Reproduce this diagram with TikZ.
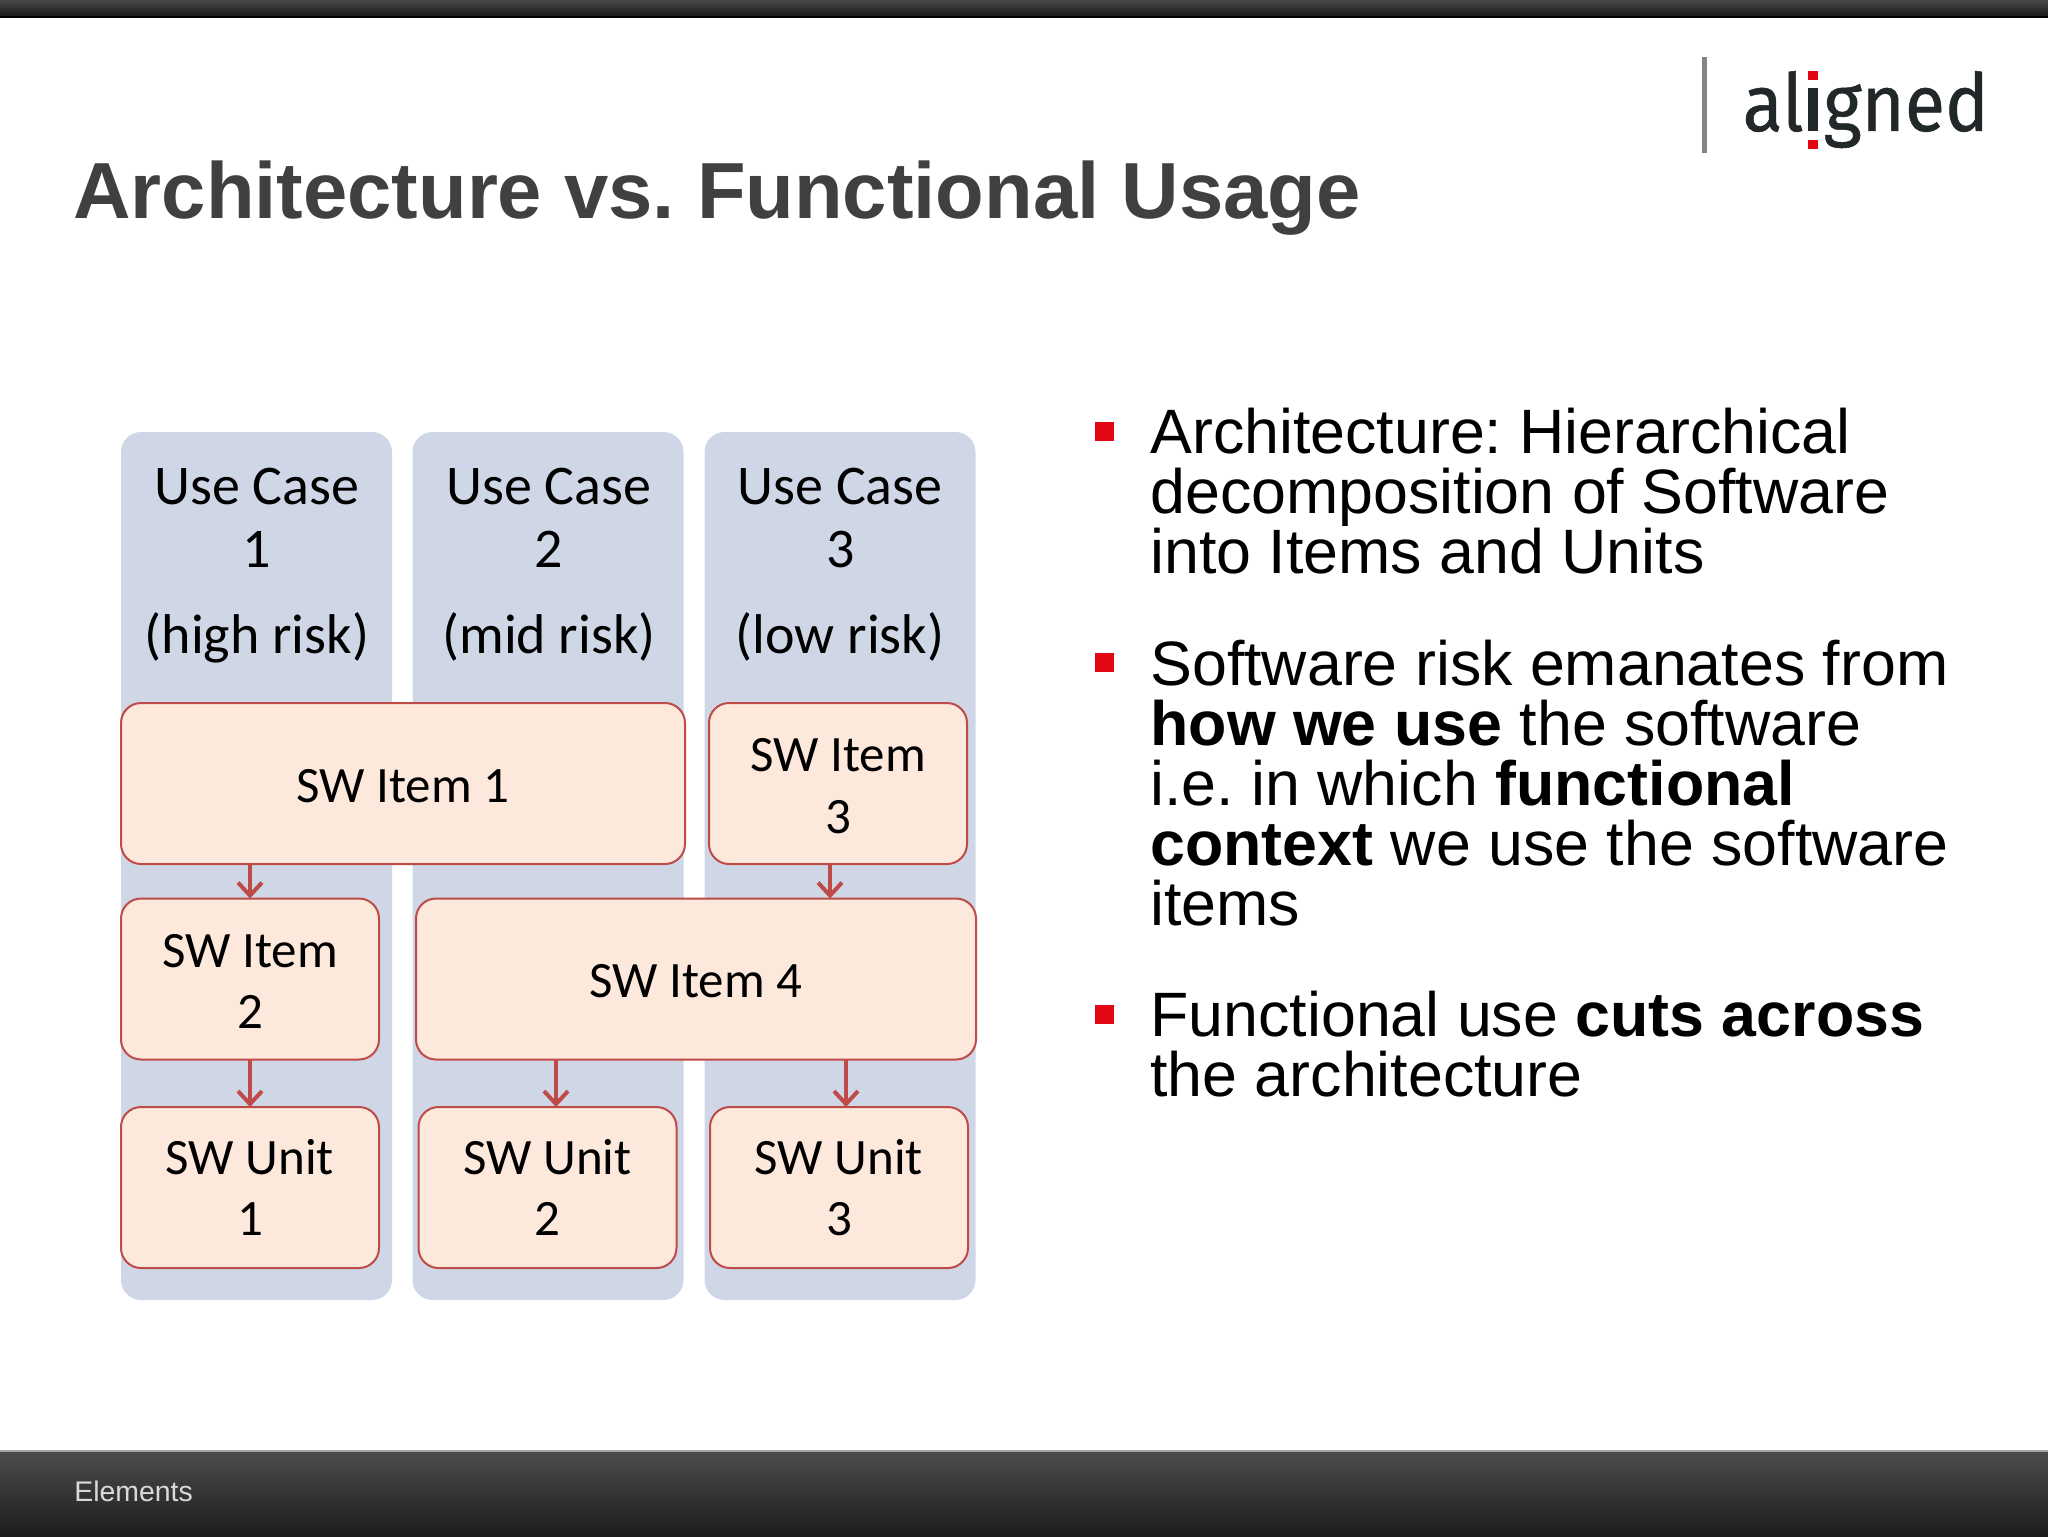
\documentclass[tikz,border=0pt]{standalone}
\usepackage{fontspec}
\setmainfont{Liberation Sans}
\newfontfamily\carlito{Carlito}
\newfontfamily\logofont[FakeStretch=0.92,FakeBold=0.6]{Fira Sans}
\usetikzlibrary{arrows.meta}
\frenchspacing
\newcommand{\lowr}{\rule{0pt}{19pt}}
\definecolor{colfill}{HTML}{CFD7E7}
\definecolor{boxfill}{HTML}{FDE8DC}
\definecolor{boxline}{HTML}{BE4B48}
\definecolor{titlegray}{HTML}{404040}
\definecolor{logodark}{HTML}{22282A}
\definecolor{logored}{HTML}{E30613}
\tikzset{
  x=0.5pt,y=-0.5pt,
  colbox/.style={rectangle,rounded corners=10pt,fill=colfill,inner sep=0pt,outer sep=0pt,minimum width=135.5pt,minimum height=434pt},
  swbox/.style={rectangle,rounded corners=10pt,fill=boxfill,draw=boxline,line width=1pt,inner sep=0pt,outer sep=0pt,minimum height=80.5pt,align=center,font=\carlito\fontsize{25.5}{30.7}\selectfont},
  collabel/.style={anchor=base,inner sep=0pt,font=\carlito\fontsize{28}{30}\selectfont},
  bodytext/.style={anchor=base west,inner sep=0pt,font=\fontsize{31.35}{38}\selectfont},
  flowarrow/.style={draw=boxline,line width=2pt,-{Straight Barb[length=6.5pt,width=12pt,line width=2pt]}},
  bulletmark/.style={rectangle,fill=logored,inner sep=0pt,minimum size=9.5pt},
}
\begin{document}
\begin{tikzpicture}
\useasboundingbox (0,0) rectangle (2048,1536);
% bars
\shade[top color=black!72,bottom color=black!90] (0,0) rectangle (2048,16);
\fill[black] (0,16) rectangle (2048,18);
\shade[top color=black!70,bottom color=black!89] (0,1451) rectangle (2048,1536);
\fill[black!35] (0,1450) rectangle (2048,1452);
% title
\node[anchor=base west,inner sep=0pt,text=titlegray,font=\bfseries\fontsize{39.8}{48}\selectfont] (title) at (73,218.5) {Architecture vs. Functional Usage};
\node[anchor=base west,inner sep=0pt,text=black!15,font=\fontsize{14.2}{17}\selectfont] (footer) at (74,1501) {Elements};
% logo
\fill[black!48] (1702,57) rectangle (1707,153);
\node[anchor=base east,inner sep=0pt,text=logodark,font=\logofont\fontsize{40}{48}\selectfont] (logoa) at (1804,131) {al};
\fill[logodark] (1808,88) rectangle (1818,131);
\fill[logored] (1808,71) rectangle (1818,80);
\fill[logored] (1808,140) rectangle (1818,149);
\node[anchor=base west,inner sep=0pt,text=logodark,font=\logofont\fontsize{40}{48}\selectfont] (logob) at (1823,131) {gned};
% columns
\node[colbox] (c1) at (256.5,866) {};
\node[colbox] (c2) at (548,866) {};
\node[colbox] (c3) at (840,866) {};
\node[collabel] (c1a) at (257,504.5) {Use Case};
\node[collabel] (c1b) at (257,567) {1};
\node[collabel] (c1c) at (257,653.5) {(high risk)};
\node[collabel] (c2a) at (549,504.5) {Use Case};
\node[collabel] (c2b) at (549,567) {2};
\node[collabel] (c2c) at (549,653.5) {(mid risk)};
\node[collabel] (c3a) at (840,504.5) {Use Case};
\node[collabel] (c3b) at (840.5,567) {3};
\node[collabel] (c3c) at (840,653.5) {(low risk)};
% boxes
\node[swbox,minimum width=282pt] (i1) at (403,783.5) {\lowr SW Item 1};
\node[swbox,minimum width=129pt] (i3) at (838,783.5) {\lowr SW Item\\3};
\node[swbox,minimum width=129pt] (i2) at (250,979) {\lowr SW Item\\2};
\node[swbox,minimum width=280pt] (i4) at (696,979) {\lowr SW Item 4};
\node[swbox,minimum width=129pt] (u1) at (250,1187.5) {SW Unit\\1};
\node[swbox,minimum width=129pt] (u2) at (547.5,1187.5) {SW Unit\\2};
\node[swbox,minimum width=129pt] (u3) at (839,1187.5) {SW Unit\\3};
% arrows
\coordinate (a3) at (830,0);
\coordinate (a2) at (556,0);
\coordinate (a4) at (846,0);
\draw[flowarrow] (i1.south -| i2.north) -- (i2.north);
\draw[flowarrow] (i2.south) -- (u1.north);
\draw[flowarrow] (i3.south -| a3) -- (i4.north -| a3);
\draw[flowarrow] (i4.south -| a2) -- (u2.north -| a2);
\draw[flowarrow] (i4.south -| a4) -- (u3.north -| a4);
% bullets
\node[bulletmark] (b1) at (1104.5,431) {};
\node[bulletmark] (b2) at (1104.5,662) {};
\node[bulletmark] (b3) at (1104.5,1014) {};
\node[bodytext] (t1) at (1150,453.5) {Architecture: Hierarchical};
\node[bodytext] (t2) at (1150,513.5) {decomposition of Software};
\node[bodytext] (t3) at (1150,573.5) {into Items and Units};
\node[bodytext] (t4) at (1150,685.5) {Software risk emanates from};
\node[bodytext] (t5) at (1150,745.5) {\textbf{how we use} the software};
\node[bodytext] (t6) at (1150,805.5) {i.e. in which \textbf{functional}};
\node[bodytext] (t7) at (1150,865.5) {\textbf{context} we use the software};
\node[bodytext] (t8) at (1150,925.5) {items};
\node[bodytext] (t9) at (1150,1036.5) {Functional use \textbf{cuts across}};
\node[bodytext] (t10) at (1150,1096.5) {the architecture};
\end{tikzpicture}
\end{document}
